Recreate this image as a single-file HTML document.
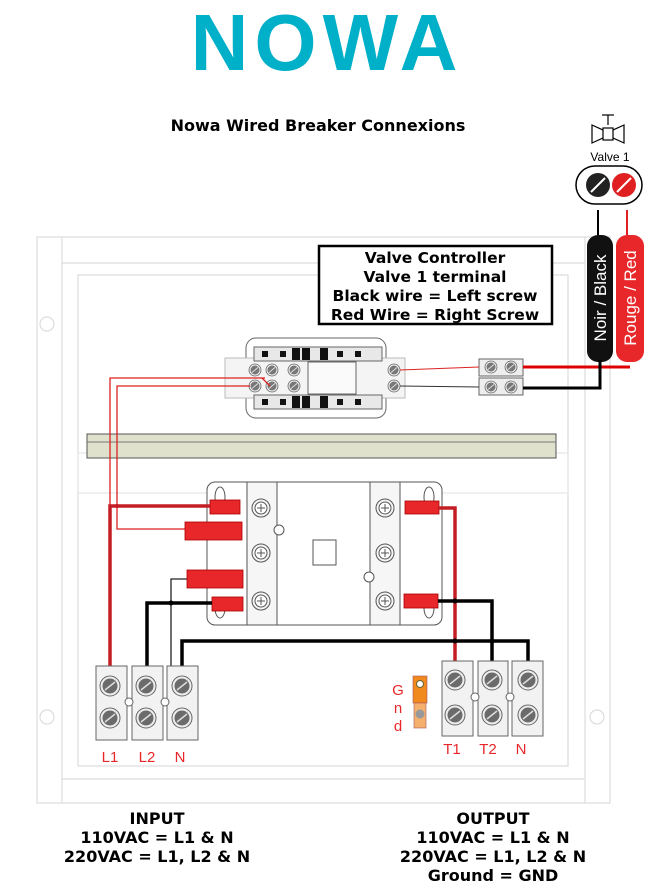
<!DOCTYPE html>
<html><head><meta charset="utf-8"><style>
html,body{margin:0;padding:0;background:#fff;}
svg{display:block;font-family:"Liberation Sans",sans-serif;}
.b{font-family:"DejaVu Sans","Liberation Sans",sans-serif;font-weight:bold;}
</style></head><body>
<svg width="662" height="887" viewBox="0 0 662 887" xmlns="http://www.w3.org/2000/svg">
<defs>
<g id="scr"><circle r="10" fill="#eee" stroke="#666" stroke-width="1"/><circle r="7.5" fill="#6b6b6b"/><line x1="-5" y1="4" x2="5" y2="-4" stroke="#ddd" stroke-width="1.5"/></g>
<g id="sscr"><circle r="6" fill="#eee" stroke="#666" stroke-width="0.8"/><circle r="4.5" fill="#777"/><line x1="-3" y1="2.5" x2="3" y2="-2.5" stroke="#ddd" stroke-width="1"/></g>
<g id="cscr"><circle r="9" fill="#f4f4f4" stroke="#555" stroke-width="1"/><circle r="6" fill="#fff" stroke="#555" stroke-width="1"/><line x1="-4" y1="0" x2="4" y2="0" stroke="#555"/><line x1="0" y1="-4" x2="0" y2="4" stroke="#555"/></g>
</defs>
<text x="327" y="70" text-anchor="middle" font-size="80" font-weight="bold" fill="#00afc8" letter-spacing="6" style="font-family:'Liberation Sans',sans-serif">NOWA</text>
<text x="318" y="131" text-anchor="middle" font-size="16" class="b">Nowa Wired Breaker Connexions</text>

<!-- panel -->
<g fill="none" stroke="#dcdcdc" stroke-width="1.2">
<rect x="37" y="237" width="573" height="566"/>
<line x1="62" y1="237" x2="62" y2="803"/>
<line x1="585" y1="237" x2="585" y2="803"/>
<line x1="62" y1="263" x2="585" y2="263"/>
<line x1="62" y1="779" x2="585" y2="779"/>
<rect x="78" y="275" width="490" height="491"/>
<rect x="78" y="453" width="490" height="40" stroke="#e6e6e6"/>
<circle cx="47" cy="324" r="7"/><circle cx="47" cy="717" r="7"/>
<circle cx="597" cy="717" r="7"/>
</g>

<!-- rail -->
<rect x="87" y="434" width="469" height="24" fill="#dfe1cd" stroke="#555" stroke-width="1"/>
<line x1="87" y1="442" x2="556" y2="442" stroke="#777" stroke-width="1"/>

<!-- relay socket -->
<g stroke="#666" stroke-width="1" fill="none">
<rect x="246" y="338" width="140" height="80" rx="10" fill="#fff"/>
<rect x="225" y="358" width="180" height="40" fill="#f4f4f4" stroke="#bbb"/>
<rect x="254" y="347" width="128" height="14" fill="#e8e8e8"/>
<rect x="254" y="395" width="128" height="14" fill="#e8e8e8"/>
<rect x="308" y="362" width="48" height="32" fill="#fafafa"/>
</g>
<g fill="#111">
<rect x="262" y="351" width="6" height="6"/><rect x="280" y="351" width="6" height="6"/><rect x="292" y="348" width="8" height="12"/><rect x="302" y="348" width="8" height="12"/><rect x="320" y="348" width="8" height="12"/><rect x="337" y="351" width="6" height="6"/><rect x="355" y="351" width="6" height="6"/>
<rect x="262" y="399" width="6" height="6"/><rect x="280" y="399" width="6" height="6"/><rect x="292" y="396" width="8" height="12"/><rect x="302" y="396" width="8" height="12"/><rect x="320" y="396" width="8" height="12"/><rect x="337" y="399" width="6" height="6"/><rect x="355" y="399" width="6" height="6"/>
</g>
<use href="#sscr" x="255" y="370"/><use href="#sscr" x="255" y="386"/><use href="#sscr" x="272" y="370"/><use href="#sscr" x="272" y="386"/><use href="#sscr" x="294" y="370"/><use href="#sscr" x="294" y="386"/><use href="#sscr" x="394" y="370"/><use href="#sscr" x="394" y="386"/>

<!-- small terminal -->
<rect x="479" y="359" width="44" height="17" fill="#eee" stroke="#666"/>
<rect x="479" y="378" width="44" height="17" fill="#eee" stroke="#666"/>
<use href="#sscr" x="491" y="367"/><use href="#sscr" x="511" y="367"/><use href="#sscr" x="491" y="387"/><use href="#sscr" x="511" y="387"/>

<!-- valve controller box -->
<rect x="319" y="246" width="233" height="78" fill="#fff" stroke="#000" stroke-width="2.5"/>
<g class="b" font-size="15.5" text-anchor="middle">
<text x="435" y="263">Valve Controller</text>
<text x="435" y="282">Valve 1 terminal</text>
<text x="435" y="301">Black wire = Left screw</text>
<text x="435" y="320">Red Wire = Right Screw</text>
</g>

<!-- valve symbol -->
<g stroke="#000" stroke-width="1.2" fill="#fff">
<line x1="608" y1="115" x2="608" y2="125"/><line x1="602" y1="115" x2="614" y2="115"/>
<path d="M592 125 L603 130 L613 130 L624 125 L624 143 L613 138 L603 138 L592 143 Z"/>
<rect x="603" y="128" width="10" height="12"/>
</g>
<text x="610" y="161" text-anchor="middle" font-size="12">Valve 1</text>
<rect x="576" y="166" width="66" height="38" rx="19" fill="#fff" stroke="#000" stroke-width="1.5"/>
<circle cx="598" cy="185" r="12" fill="#222"/><circle cx="624" cy="185" r="12" fill="#e02020"/>
<line x1="591" y1="192" x2="605" y2="178" stroke="#fff" stroke-width="2"/>
<line x1="617" y1="192" x2="631" y2="178" stroke="#fff" stroke-width="2"/>
<line x1="598" y1="210" x2="598" y2="236" stroke="#000" stroke-width="2"/>
<line x1="627" y1="210" x2="627" y2="236" stroke="#e02020" stroke-width="2"/>
<rect x="587" y="235" width="26" height="127" rx="11" fill="#111"/>
<rect x="616" y="235" width="28" height="127" rx="11" fill="#e8272a"/>
<text transform="translate(606,298) rotate(-90)" text-anchor="middle" font-size="17" fill="#fff">Noir / Black</text>
<text transform="translate(636,298) rotate(-90)" text-anchor="middle" font-size="17" fill="#fff">Rouge / Red</text>

<!-- relay-to-terminal wires -->
<line x1="400" y1="370" x2="479" y2="367" stroke="#d22" stroke-width="1"/>
<line x1="400" y1="386" x2="479" y2="387" stroke="#333" stroke-width="1"/>
<line x1="523" y1="367" x2="630" y2="367" stroke="#d00" stroke-width="3"/>
<polyline points="523,388 600,388 600,360" fill="none" stroke="#000" stroke-width="3"/>

<!-- thin red wires from relay -->
<polyline points="265,378 110,378 110,506" fill="none" stroke="#d22" stroke-width="1.3"/>
<line x1="262" y1="378" x2="270" y2="386" stroke="#d22" stroke-width="1.3"/>
<polyline points="250,386 117,386 117,529 186,529" fill="none" stroke="#d22" stroke-width="1.3"/>

<!-- contactor -->
<g stroke="#555" stroke-width="1" fill="#fff">
<rect x="207" y="482" width="235" height="143" rx="8"/>
<rect x="247" y="482" width="30" height="143" fill="#f6f6f6"/>
<rect x="370" y="482" width="30" height="143" fill="#f6f6f6"/>
<rect x="313" y="540" width="23" height="25"/>
<ellipse cx="220" cy="497" rx="5" ry="10"/><ellipse cx="220" cy="608" rx="5" ry="10"/>
<ellipse cx="429" cy="497" rx="5" ry="10"/><ellipse cx="429" cy="608" rx="5" ry="10"/>
<circle cx="279" cy="530" r="5"/><circle cx="369" cy="577" r="5"/>
</g>
<use href="#cscr" x="261" y="508"/><use href="#cscr" x="261" y="553"/><use href="#cscr" x="261" y="601"/>
<use href="#cscr" x="385" y="508"/><use href="#cscr" x="385" y="553"/><use href="#cscr" x="385" y="601"/>
<g fill="#e8272a" stroke="#a00" stroke-width="0.8">
<rect x="210" y="500" width="30" height="14"/>
<rect x="185" y="522" width="57" height="18"/>
<rect x="187" y="570" width="56" height="18"/>
<rect x="212" y="597" width="31" height="14"/>
<rect x="405" y="501" width="34" height="13"/>
<rect x="404" y="594" width="34" height="14"/>
</g>

<!-- power wiring -->
<polyline points="210,506 110,506 110,666" fill="none" stroke="#c41e24" stroke-width="3.5"/>
<circle cx="117" cy="506" r="2" fill="#c41e24"/>
<polyline points="187,579 171,579 171,666" fill="none" stroke="#222" stroke-width="1.3"/>
<polyline points="212,603 147,603 147,666" fill="none" stroke="#000" stroke-width="3.5"/>
<circle cx="171" cy="603" r="2.5" fill="#000"/>
<polyline points="182,666 182,641 528,641 528,661" fill="none" stroke="#000" stroke-width="3.5"/>
<polyline points="438,601 492,601 492,661" fill="none" stroke="#000" stroke-width="3.5"/>
<polyline points="438,508 455,508 455,661" fill="none" stroke="#c41e24" stroke-width="3.5"/>
<circle cx="455" cy="601" r="2.5" fill="#000"/><circle cx="492" cy="641" r="2.5" fill="#000"/><circle cx="455" cy="641" r="2.5" fill="#000"/>

<!-- terminals -->
<g fill="#f2f2f2" stroke="#666" stroke-width="1">
<rect x="96" y="666" width="31" height="74"/><rect x="132" y="666" width="31" height="74"/><rect x="167" y="666" width="31" height="74"/>
<rect x="442" y="661" width="31" height="75"/><rect x="478" y="661" width="30" height="75"/><rect x="512" y="661" width="31" height="75"/>
</g>
<use href="#scr" x="110" y="686"/><use href="#scr" x="146" y="686"/><use href="#scr" x="182" y="686"/>
<use href="#scr" x="110" y="718"/><use href="#scr" x="146" y="718"/><use href="#scr" x="182" y="718"/>
<use href="#scr" x="455" y="680"/><use href="#scr" x="492" y="680"/><use href="#scr" x="528" y="680"/>
<use href="#scr" x="455" y="715"/><use href="#scr" x="492" y="715"/><use href="#scr" x="528" y="715"/>
<g fill="#fff" stroke="#666"><circle cx="129" cy="702" r="4"/><circle cx="165" cy="702" r="4"/><circle cx="475" cy="697" r="4"/><circle cx="510" cy="697" r="4"/></g>
<g fill="#e8272a" font-size="15" text-anchor="middle">
<text x="110" y="762">L1</text><text x="147" y="762">L2</text><text x="180" y="762">N</text>
<text x="452" y="754">T1</text><text x="488" y="754">T2</text><text x="521" y="754">N</text>
<text x="398" y="695">G</text><text x="398" y="713">n</text><text x="398" y="731">d</text>
</g>
<!-- gnd -->
<rect x="413" y="676" width="14" height="27" fill="#f08a1e" stroke="#a55" stroke-width="0.6"/>
<circle cx="420" cy="684" r="3.5" fill="#fff" stroke="#663"/>
<rect x="414" y="703" width="12" height="25" fill="#f5b070" stroke="#a55" stroke-width="0.6"/>
<circle cx="420" cy="714" r="4.5" fill="#999"/>

<!-- bottom text -->
<g class="b" font-size="16" text-anchor="middle">
<text x="157" y="824">INPUT</text>
<text x="157" y="843">110VAC = L1 &amp; N</text>
<text x="157" y="862">220VAC = L1, L2 &amp; N</text>
<text x="493" y="824">OUTPUT</text>
<text x="493" y="843">110VAC = L1 &amp; N</text>
<text x="493" y="862">220VAC = L1, L2 &amp; N</text>
<text x="493" y="881">Ground = GND</text>
</g>
</svg>
</body></html>
